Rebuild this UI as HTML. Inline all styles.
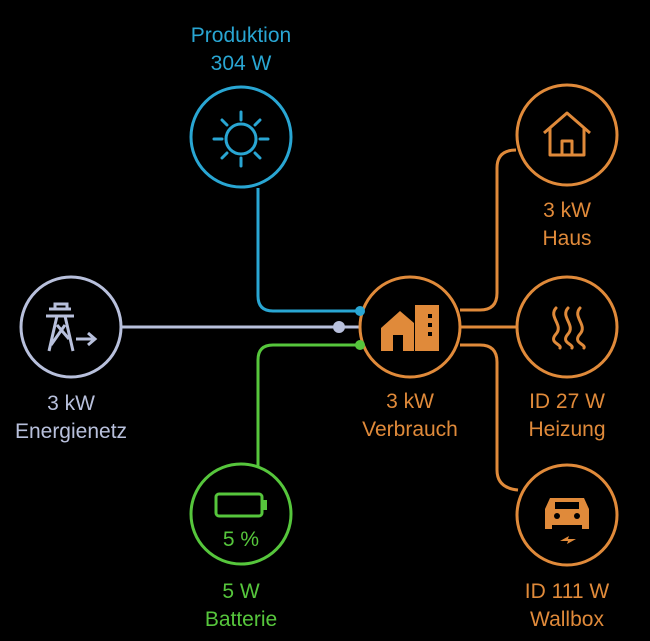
<!DOCTYPE html>
<html><head><style>
html,body{margin:0;padding:0;background:#000;}
body{width:650px;height:641px;overflow:hidden;position:relative;font-family:"Liberation Sans",sans-serif;}
.t{position:absolute;text-align:center;font-size:21px;line-height:28px;width:200px;}
</style></head><body>
<svg width="650" height="641" style="position:absolute;left:0;top:0">
<g fill="none" stroke-width="3">
<path d="M258 188 V296 Q258 311 273 311 H360" stroke="#29a6d3"/>
<path d="M122 327 H360" stroke="#b8c0dc"/>
<path d="M360 345 H273 Q258 345 258 360 V466" stroke="#56c63c"/>
<path d="M460 310 H480 Q497 310 497 293 V168 Q497 150 516 150" stroke="#e08a3a"/>
<path d="M460 327 H516" stroke="#e08a3a"/>
<path d="M460 345 H480 Q497 345 497 362 V470 Q497 488 518 490" stroke="#e08a3a"/>
<circle cx="241" cy="137" r="50" stroke="#29a6d3"/>
<circle cx="71" cy="327" r="50" stroke="#b8c0dc"/>
<circle cx="410" cy="327" r="50" stroke="#e08a3a"/>
<circle cx="241" cy="514" r="50" stroke="#56c63c"/>
<circle cx="567" cy="135" r="50" stroke="#e08a3a"/>
<circle cx="567" cy="327" r="50" stroke="#e08a3a"/>
<circle cx="567" cy="515" r="50" stroke="#e08a3a"/>
</g>
<circle cx="360" cy="311" r="5" fill="#29a6d3"/>
<circle cx="339" cy="327" r="6" fill="#b8c0dc"/>
<circle cx="360" cy="345" r="5" fill="#56c63c"/>
<g stroke="#29a6d3" stroke-width="3" fill="none" stroke-linecap="round">
<circle cx="241" cy="139" r="15"/>
<path d="M241 112v8M241 158v8M214 139h8M260 139h8M222 120l5 5M255 153l5 5M222 158l5-5M255 125l5-5"/>
</g>
<g stroke="#b8c0dc" stroke-width="3" fill="none">
<path d="M49 309h22M46 316h28M55 309v-5h12v5M57 316l-8 35M65 316l8 35M57 325l12 14M65 325l-14 20M76 339h17"/>
<path d="M88 333l7 6-7 6" />
</g>
<g fill="#e08a3a">
<path d="M381 328l19-17 14 12v28h-33z"/>
<path d="M415 305h24v46h-24z"/>
</g>
<g fill="#000"><rect x="393" y="335" width="10" height="16"/><rect x="428" y="314" width="4" height="4"/><rect x="428" y="323" width="4" height="4"/><rect x="428" y="332" width="4" height="4"/></g>
<g stroke="#56c63c" stroke-width="3" fill="none"><rect x="216" y="494" width="46" height="22" rx="3"/></g>
<rect x="263" y="500" width="4" height="10" fill="#56c63c"/>
<g stroke="#e08a3a" stroke-width="3" fill="none" stroke-linejoin="round">
<path d="M544 133l23-20 23 20M550 128v27h34v-27M562 155v-14h10v14"/>
</g>
<g stroke="#e08a3a" stroke-width="3" fill="none" stroke-linecap="round">
<path d="M556 308c-8 9 8 17 0 26s6 10 4 14M568 308c-8 9 8 17 0 26s6 10 4 14M580 308c-8 9 8 17 0 26s6 10 4 14"/>
</g>
<g fill="#e08a3a">
<path d="M550 498h34l5 11v20h-7v-4h-30v4h-7v-20z"/>
</g>
<rect x="555" y="502" width="24" height="7" fill="#000"/>
<circle cx="557" cy="516" r="3" fill="#000"/><circle cx="577" cy="516" r="3" fill="#000"/>
<path d="M560 541l9-5-1 3 8 0-9 5 1-3z" fill="#e08a3a"/>
</svg>
<div class="t" style="left:141px;top:22px;color:#29a6d3">Produktion<br>304 W</div>
<div class="t" style="left:-29px;top:390px;color:#b8c0dc">3 kW<br>Energienetz</div>
<div class="t" style="left:310px;top:388px;color:#e08a3a">3 kW<br>Verbrauch</div>
<div class="t" style="left:141px;top:526px;color:#56c63c">5 %</div>
<div class="t" style="left:141px;top:578px;color:#56c63c">5 W<br>Batterie</div>
<div class="t" style="left:467px;top:197px;color:#e08a3a">3 kW<br>Haus</div>
<div class="t" style="left:467px;top:388px;color:#e08a3a">ID 27 W<br>Heizung</div>
<div class="t" style="left:467px;top:578px;color:#e08a3a">ID 111 W<br>Wallbox</div>
</body></html>
